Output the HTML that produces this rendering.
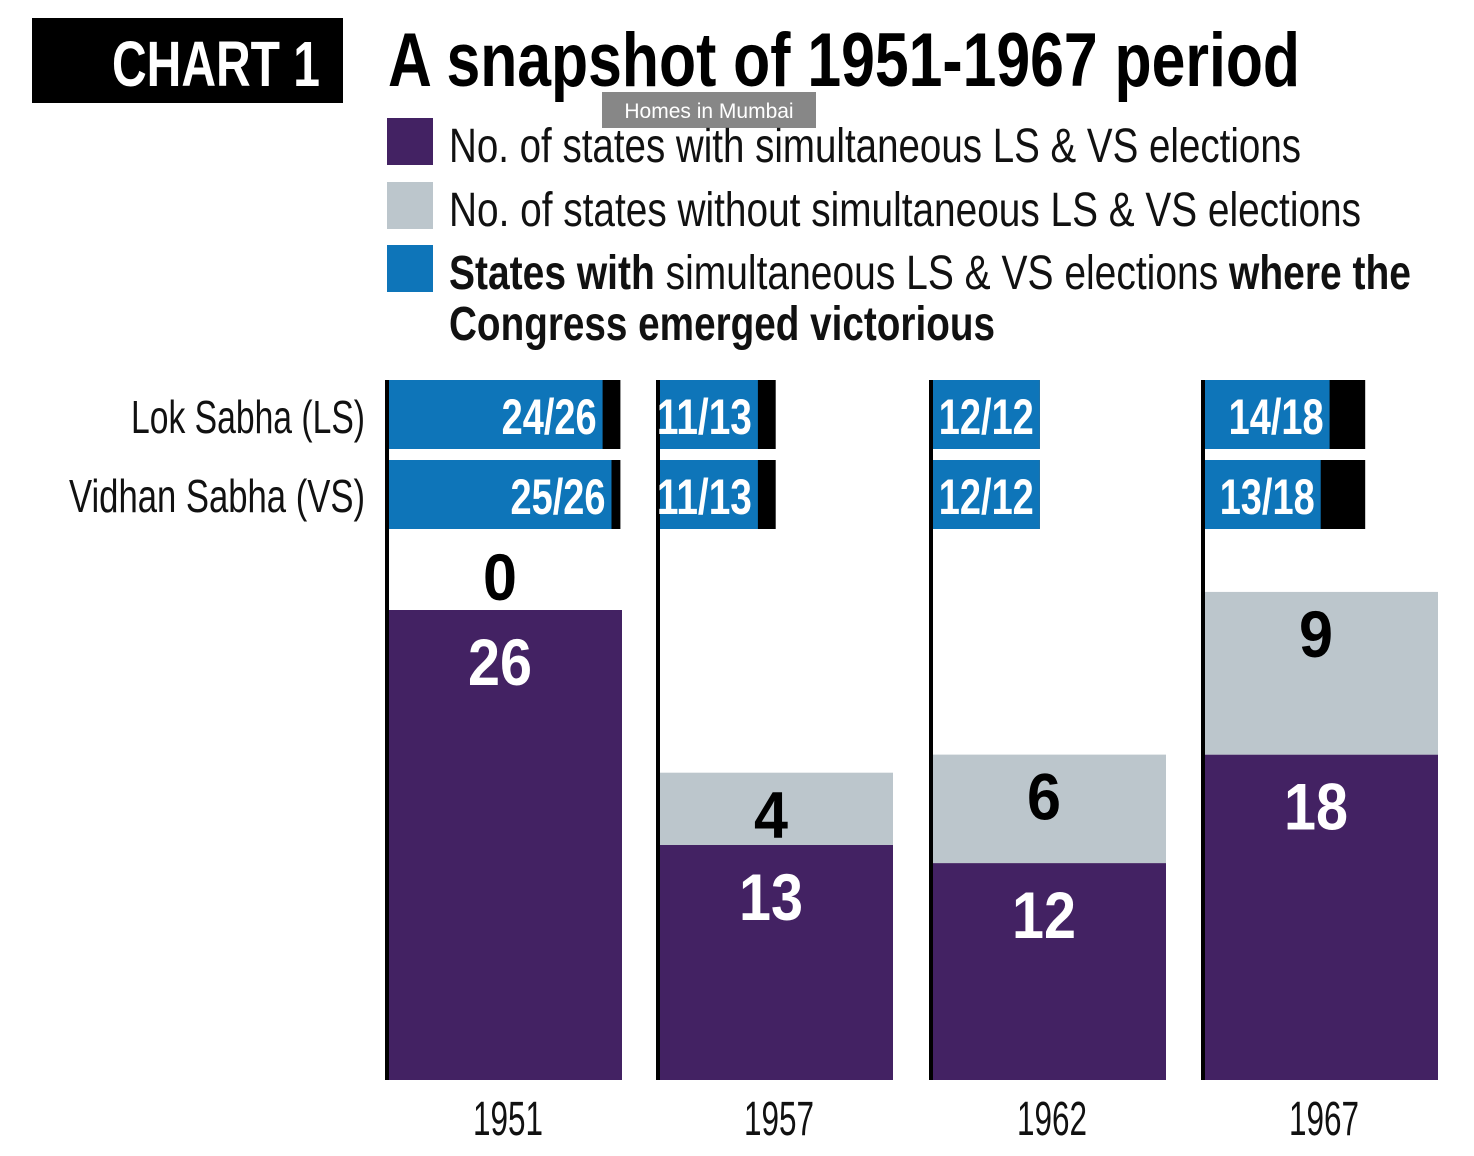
<!DOCTYPE html>
<html><head><meta charset="utf-8"><style>
body{margin:0;background:#fff;width:1474px;height:1156px;overflow:hidden}
svg{display:block}
text{font-family:"Liberation Sans Narrow","Liberation Sans",sans-serif}
</style></head><body>
<svg id="chart" width="1474" height="1156" viewBox="0 0 1474 1156">
<rect x="32" y="18" width="311" height="85" fill="#000"/>
<text x="112" y="86" font-size="64" font-weight="bold" fill="#fff" textLength="208" lengthAdjust="spacingAndGlyphs">CHART 1</text>
<text x="388" y="86" font-size="76" font-weight="bold" fill="#000" textLength="912" lengthAdjust="spacingAndGlyphs">A snapshot of 1951-1967 period</text>
<rect x="387" y="118" width="46" height="47" fill="#432263"/>
<text x="449" y="162" font-size="48" fill="#111" textLength="852" lengthAdjust="spacingAndGlyphs">No. of states with simultaneous LS &amp; VS elections</text>
<rect x="387" y="182" width="46" height="47" fill="#bcc6cc"/>
<text x="449" y="226" font-size="48" fill="#111" textLength="912" lengthAdjust="spacingAndGlyphs">No. of states without simultaneous LS &amp; VS elections</text>
<rect x="387" y="245" width="46" height="47" fill="#0e75b9"/>
<text x="449" y="289" font-size="48" fill="#111" textLength="962" lengthAdjust="spacingAndGlyphs"><tspan font-weight="bold">States with</tspan> simultaneous LS &amp; VS elections <tspan font-weight="bold">where the</tspan></text>
<text x="449" y="340" font-size="48" font-weight="bold" fill="#111" textLength="546" lengthAdjust="spacingAndGlyphs">Congress emerged victorious</text>
<rect x="602" y="92" width="214" height="36" fill="#7a7a7a" opacity="0.9"/>
<text x="709" y="118" font-size="21" fill="#fff" text-anchor="middle" font-family="Liberation Sans, sans-serif">Homes in Mumbai</text>
<text x="365" y="433" font-size="46" fill="#111" text-anchor="end" textLength="234" lengthAdjust="spacingAndGlyphs">Lok Sabha (LS)</text>
<text x="365" y="512" font-size="46" fill="#111" text-anchor="end" textLength="296" lengthAdjust="spacingAndGlyphs">Vidhan Sabha (VS)</text>
<g id="bars"></g>
</svg>
<script>
const years=["1951","1957","1962","1967"];
const simult=[26,13,12,18];
const without=[0,4,6,9];
const lsWon=[24,11,12,14];
const vsWon=[25,11,12,13];
const colX=[386,657,930,1202];
const colW=236, base=1080, yUnit=470/26, xUnit=8.9;
const y=v=>base-v*yUnit;
const NS="http://www.w3.org/2000/svg";
const g=document.getElementById('bars');
function mk(tag,attrs){const e=document.createElementNS(NS,tag);for(const k in attrs)e.setAttribute(k,attrs[k]);g.appendChild(e);return e;}
function txt(attrs,s,perChar){const t=mk('text',attrs);t.textContent=s;t.setAttribute('textLength',String(s).length*perChar);t.setAttribute('lengthAdjust','spacingAndGlyphs');return t;}
years.forEach((yr,i)=>{
  const x=colX[i];
  let e;
  e=mk('rect',{x:x,y:y(simult[i]),width:colW,height:base-y(simult[i]),fill:'#432263'});
  
  
  if(without[i]>0){
    e=mk('rect',{x:x,y:y(simult[i]+without[i]),width:colW,height:without[i]*yUnit,fill:'#bcc6cc'});
    
    
  }
  e=mk('rect',{x:x-1,y:380,width:4,height:700,fill:'#000'});
  
  
  const total=simult[i];
  [[lsWon[i],380,'ls'],[vsWon[i],460,'vs']].forEach(([won,ty,k])=>{
    let r=mk('rect',{x:x+3,y:ty,width:total*xUnit,height:69,fill:'#000'});
    
    
    r=mk('rect',{x:x+3,y:ty,width:won*xUnit,height:69,fill:'#0e75b9'});
    
    
    const t=txt({x:x+3+won*xUnit-6,y:ty+54,'font-size':50,'font-weight':'bold',fill:'#fff','text-anchor':'end'},won+'/'+total,19);
    
    
  });
  const cx=x+colW/2-4;
  let t=txt({x:cx,y:y(simult[i])+75,'font-size':66,'font-weight':'bold',fill:'#fff','text-anchor':'middle'},simult[i],32);
  
  
  const wy=without[i]>0? y(simult[i]+without[i])+65 : y(simult[i])-10;
  t=txt({x:cx,y:wy,'font-size':66,'font-weight':'bold',fill:'#000','text-anchor':'middle'},without[i],34);
  
  
  t=txt({x:x+colW/2+4,y:1135,'font-size':48,fill:'#111','text-anchor':'middle'},yr,17.5);
  
  
});
</script>
</body></html>
